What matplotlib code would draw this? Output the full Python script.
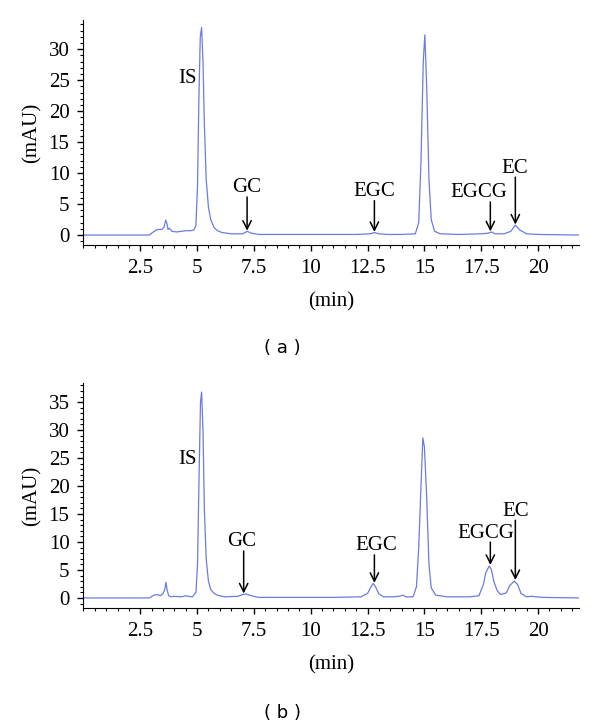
import matplotlib
matplotlib.use("Agg")
import matplotlib.pyplot as plt
from matplotlib.ticker import MultipleLocator

# Data (retention time in min, absorbance in mAU)
time_a = [0, 2.9, 3.0, 3.2, 3.3, 3.45, 3.55, 3.62, 3.68, 3.72, 3.78, 3.9, 4.1, 4.3,
          4.5, 4.7, 4.85, 4.95, 5.02, 5.08, 5.14, 5.2, 5.26, 5.32, 5.4, 5.5, 5.6,
          5.75, 5.9, 6.1, 6.5, 7.0, 7.2, 7.4, 7.7, 8.5, 10, 12.0, 12.6, 12.8, 13.0,
          13.4, 14.0, 14.6, 14.75, 14.85, 14.95, 15.02, 15.1, 15.2, 15.3, 15.45,
          15.7, 16.5, 17.5, 17.8, 17.95, 18.1, 18.5, 18.8, 19.0, 19.2, 19.5, 20, 21.8]
signal_a = [0, 0, 0.3, 0.8, 0.9, 0.9, 1.3, 2.4, 1.8, 0.9, 1.1, 0.6, 0.5, 0.6,
            0.7, 0.7, 0.8, 1.5, 8, 22, 32, 33.5, 28, 18, 9, 4.5, 2.5,
            1.2, 0.7, 0.4, 0.2, 0.2, 0.6, 0.3, 0.1, 0.1, 0.1, 0.1, 0.2, 0.4, 0.2,
            0.1, 0.1, 0.2, 2, 12, 28, 32.3, 24, 9, 2.5, 0.6,
            0.2, 0.1, 0.2, 0.3, 0.5, 0.2, 0.2, 0.6, 1.6, 0.8, 0.2, 0.1, 0]

time_b = [0, 2.9, 3.1, 3.25, 3.4, 3.5, 3.58, 3.63, 3.68, 3.75, 3.85, 4.0, 4.3, 4.5,
          4.6, 4.8, 4.95, 5.02, 5.08, 5.15, 5.2, 5.26, 5.32, 5.4, 5.5, 5.6, 5.75,
          5.9, 6.2, 6.8, 7.0, 7.15, 7.4, 7.7, 9, 11, 12.2, 12.5, 12.65, 12.75, 12.85,
          13.0, 13.2, 13.6, 13.9, 14.05, 14.2, 14.5, 14.65, 14.75, 14.85, 14.93,
          15.0, 15.1, 15.2, 15.3, 15.5, 16, 17, 17.4, 17.6, 17.7, 17.85, 17.95,
          18.05, 18.2, 18.35, 18.6, 18.75, 18.95, 19.1, 19.25, 19.5, 19.7, 20.2, 21.8]
signal_b = [0, 0, 0.5, 0.6, 0.4, 0.8, 1.5, 2.8, 1.5, 0.4, 0.2, 0.3, 0.2, 0.4,
            0.3, 0.2, 1.0, 6, 20, 35, 36.8, 30, 16, 7, 3, 1.5, 0.8,
            0.5, 0.2, 0.3, 0.6, 0.7, 0.4, 0.1, 0.1, 0.1, 0.2, 0.8, 2.0, 2.6, 2.0,
            0.7, 0.2, 0.2, 0.3, 0.5, 0.2, 0.2, 2, 9, 20, 28.6,
            27, 18, 6, 1.8, 0.5, 0.2, 0.2, 0.4, 2.5, 4.5, 5.7, 5.0,
            3.0, 1.3, 0.6, 0.9, 2.2, 3.0, 2.4, 0.8, 0.2, 0.3, 0.1, 0]

# peak labels: (name, peak time, peak top, text x, text y)
labels_a = [("GC", 7.2, 0.7, 7.2, 7.6), ("EGC", 12.8, 0.5, 12.8, 7.0),
            ("EGCG", 17.9, 0.6, 17.4, 6.8), ("EC", 19.0, 1.7, 18.95, 10.8)]
labels_b = [("GC", 7.05, 0.8, 6.95, 10.0), ("EGC", 12.8, 2.7, 12.9, 9.3),
            ("EGCG", 17.9, 5.9, 17.7, 11.6), ("EC", 19.0, 3.2, 19.0, 15.5)]

serif = "Liberation Serif"
line_color = "#6b7be3"

fig = plt.figure(figsize=(6, 7.28), dpi=100)


def draw(rect, t, s, labels, ylim, is_pos, tag, tag_y):
    ax = fig.add_axes(rect)
    ax.plot(t, s, color=line_color, lw=0.9)
    ax.set_xlim(0, 21.8)
    ax.set_ylim(*ylim)
    ax.spines["top"].set_visible(False)
    ax.spines["right"].set_visible(False)
    ax.xaxis.set_minor_locator(MultipleLocator(0.5))
    ax.yaxis.set_major_locator(MultipleLocator(5))
    ax.yaxis.set_minor_locator(MultipleLocator(1))
    ax.set_xticks([2.5, 5, 7.5, 10, 12.5, 15, 17.5, 20])
    ax.set_xticklabels(["2.5", "5", "7.5", "10", "12.5", "15", "17.5", "20"])
    ax.tick_params(which="major", length=4, width=1, pad=6)
    ax.tick_params(which="minor", length=2, width=0.8)
    for lab in ax.get_xticklabels() + ax.get_yticklabels():
        lab.set_fontfamily(serif)
        lab.set_fontsize(15)
    ax.set_xlabel("(min)", fontfamily=serif, fontsize=15, labelpad=10)
    ax.set_ylabel("(mAU)", fontfamily=serif, fontsize=15, labelpad=5)
    ax.text(is_pos[0], is_pos[1], "IS", fontfamily=serif, fontsize=15,
            ha="center", va="center")
    for name, px, py, tx, ty in labels:
        ax.text(tx, ty, name, fontfamily=serif, fontsize=15, ha="center", va="center")
        ax.annotate("", xy=(px, py), xytext=(px, ty),
                    arrowprops=dict(arrowstyle="->", color="black", lw=1.1,
                                    mutation_scale=15, shrinkA=6.5, shrinkB=0))
    fig.text(0.47, tag_y, "( %s )" % tag, fontfamily="DejaVu Sans", fontsize=13,
             ha="center", va="center")
    return ax


draw([0.139, 0.6635, 0.826, 0.309], time_a, signal_a, labels_a,
     (-1.6, 34.7), (4.6, 25.2), "a", 1 - 348 / 728)
draw([0.139, 0.1648, 0.826, 0.309], time_b, signal_b, labels_b,
     (-1.8, 38.4), (4.6, 24.8), "b", 1 - 713 / 728)

fig.savefig("out.png", dpi=100)
